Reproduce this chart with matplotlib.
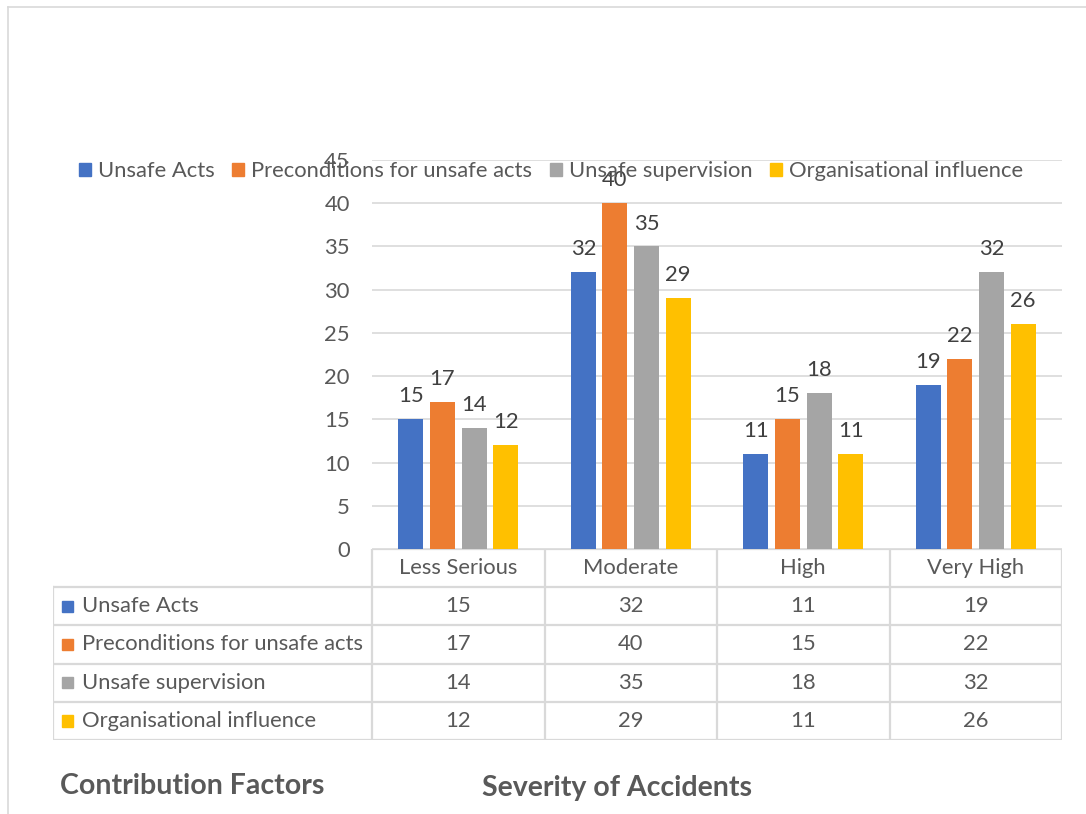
import matplotlib
matplotlib.use("Agg")
import matplotlib.pyplot as plt
from matplotlib.patches import Rectangle
from matplotlib.lines import Line2D
import numpy as np

categories = ["Less Serious", "Moderate", "High", "Very High"]
series_names = ["Unsafe Acts", "Preconditions for unsafe acts",
                "Unsafe supervision", "Organisational influence"]
unsafe_acts = [15, 32, 11, 19]
preconditions = [17, 40, 15, 22]
unsafe_supervision = [14, 35, 18, 32]
organisational = [12, 29, 11, 26]
y_ticks = [0, 5, 10, 15, 20, 25, 30, 35, 40, 45]

series_values = [unsafe_acts, preconditions, unsafe_supervision, organisational]
colors = ["#4472C4", "#ED7D31", "#A5A5A5", "#FFC000"]
TXT = "#595959"
GRID = "#D9D9D9"
FONT = "Lato"
FS = 15.8

W, H = 1086, 814
fig = plt.figure(figsize=(W / 100, H / 100), dpi=100)
fig.patch.set_facecolor("white")

def fx(px):
    return px / W

def fy(py):
    return 1 - py / H

# outer border lines (top and left)
fig.add_artist(Line2D([fx(8), 1.0], [fy(7), fy(7)], color=GRID, lw=1.2))
fig.add_artist(Line2D([fx(8), fx(8)], [fy(7), 0.0], color=GRID, lw=1.2))

# main bar axes
L, R, T, B = 372, 1062, 160, 549
ax = fig.add_axes([fx(L), fy(B), fx(R) - fx(L), fy(T) - fy(B)])
ax.set_xlim(-0.5, 3.5)
ax.set_ylim(0, 45)
x = np.arange(len(categories))
bw = 0.145
step = 0.183
for i, (vals, c) in enumerate(zip(series_values, colors)):
    pos = x + (i - 1.5) * step
    ax.bar(pos, vals, width=bw, color=c, zorder=3, label=series_names[i])
    for p, v in zip(pos, vals):
        ax.annotate(str(v), (p, v), xytext=(0, 16.5), textcoords="offset points",
                    ha="center", va="center", fontsize=FS, color="#404040",
                    family=FONT, zorder=4)
ax.set_yticks(y_ticks)
ax.set_yticklabels([str(t) for t in y_ticks], fontsize=FS, color=TXT, family=FONT)
ax.tick_params(axis="y", length=0, pad=16)
ax.set_xticks([])
for s in ax.spines.values():
    s.set_visible(False)
ax.yaxis.grid(True, color=GRID, lw=1.2, zorder=0)
ax.set_axisbelow(True)

# legend
handles = [Rectangle((0, 0), 1, 1, color=c) for c in colors]
leg = fig.legend(handles, series_names, loc="center left",
                 bbox_to_anchor=(fx(79), fy(171)), ncol=4, frameon=False,
                 handlelength=0.55, handleheight=0.55, handletextpad=0.33,
                 columnspacing=0.78, borderpad=0, borderaxespad=0,
                 prop={"family": FONT, "size": FS})
for t in leg.get_texts():
    t.set_color(TXT)

# table axes
TL, TR, TT, TB = 53, 1062, 549, 740
tax = fig.add_axes([fx(TL), fy(TB), fx(TR) - fx(TL), fy(TT) - fy(TB)])
unit = (R - L) / 4.0
left_x = -0.5 - (L - TL) / unit
tax.set_xlim(left_x, 3.5)
tax.set_ylim(5, 0)
tax.axis("off")
lw = 1.6
tax.plot([-0.5, 3.5], [0, 0], color=GRID, lw=lw, solid_capstyle="butt")
for r in range(1, 6):
    tax.plot([left_x, 3.5], [r, r], color=GRID, lw=lw, solid_capstyle="butt")
tax.plot([left_x, left_x], [1, 5], color=GRID, lw=lw)
for k in range(5):
    tax.plot([-0.5 + k, -0.5 + k], [0, 5], color=GRID, lw=lw)
for j, cat in enumerate(categories):
    tax.text(j, 0.5, cat, ha="center", va="center", fontsize=FS,
             color=TXT, family=FONT)
sq_w = 11 / unit
for i, (name, vals, c) in enumerate(zip(series_names, series_values, colors)):
    yc = i + 1.5
    tax.add_patch(Rectangle((left_x + 9 / unit, yc - 0.15), sq_w, 0.30,
                            color=c, clip_on=False))
    tax.text(left_x + 29 / unit, yc, name, ha="left", va="center",
             fontsize=FS, color=TXT, family=FONT)
    for j, v in enumerate(vals):
        tax.text(j, yc, str(v), ha="center", va="center", fontsize=FS,
                 color=TXT, family=FONT)

# bottom titles
fig.text(fx(60), fy(786), "Contribution Factors", ha="left", va="center",
         fontsize=20.5, fontweight="bold", color=TXT, family=FONT)
fig.text(fx(617), fy(788), "Severity of Accidents", ha="center", va="center",
         fontsize=20.5, fontweight="bold", color=TXT, family=FONT)

fig.savefig("out.png", dpi=100, facecolor="white")
